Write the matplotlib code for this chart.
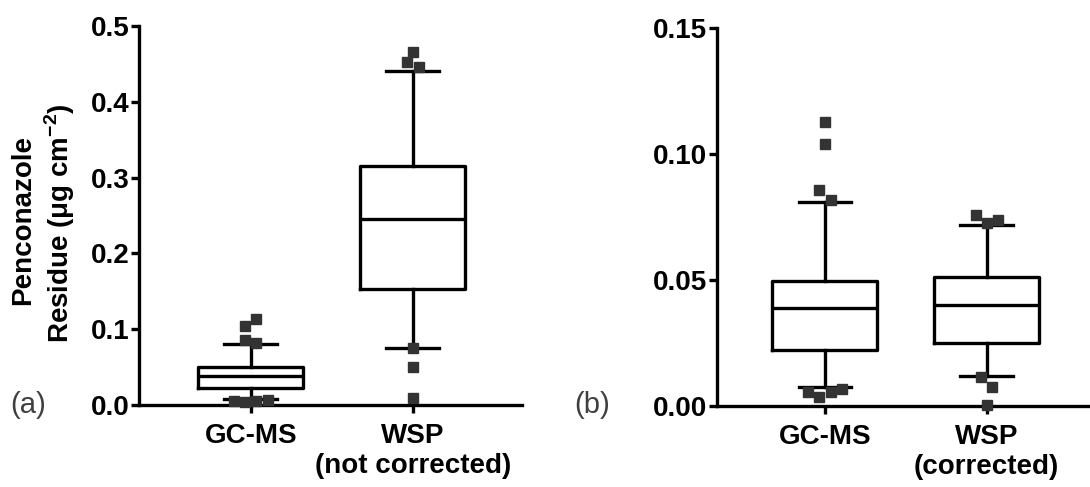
import matplotlib
matplotlib.use("Agg")
import matplotlib.pyplot as plt
from matplotlib.ticker import FormatStrFormatter

plt.rcParams['font.family'] = ['Liberation Sans', 'DejaVu Sans']
plt.rcParams['mathtext.fontset'] = 'custom'
plt.rcParams['mathtext.rm'] = 'Liberation Sans'
plt.rcParams['mathtext.bf'] = 'Liberation Sans:bold'

# box statistics (q1, median, q3, whisker low, whisker high)
cats_a = ["GC-MS", "WSP\n(not corrected)"]
cats_b = ["GC-MS", "WSP\n(corrected)"]

gcms_box = [0.0222, 0.0388, 0.0496, 0.0074, 0.0810]
gcms_out = [0.1128, 0.1038, 0.0858, 0.0818, 0.0057, 0.0037, 0.0057, 0.0067]

wsp_raw_box = [0.1526, 0.2454, 0.3157, 0.0748, 0.4410]
wsp_raw_out = [0.466, 0.453, 0.446, 0.0748, 0.0505, 0.0088]

wsp_cor_box = [0.0251, 0.0401, 0.0513, 0.0119, 0.0720]
wsp_cor_out = [0.0758, 0.0728, 0.0739, 0.0116, 0.0077, 0.0004]

# horizontal spread of overlapping outliers (pixels)
jit_gcms_a = [5.5, -5.5, -5.5, 5.5, -17, -5.7, 5.7, 17]
jit_gcms_b = [0, 0, -5.7, 5.7, -17, -5.7, 5.7, 17]
jit_raw = [0, -6, 6, 0, 0, 0]
jit_cor = [-11, 0, 11.6, -5.7, 5.7, 0]
PX = 162.0  # pixels per category unit

LW = 2.4
MARK = '#333333'
FS = 20


def stats(box, label):
    q1, med, q3, lo, hi = box
    return dict(q1=q1, med=med, q3=q3, whislo=lo, whishi=hi, fliers=[], label=label)


def draw_panel(ax, boxes, outs, jits, cats):
    ax.bxp([stats(b, c) for b, c in zip(boxes, cats)], positions=[0, 1],
           widths=0.65, capwidths=0.325, showfliers=False,
           boxprops=dict(color='black', linewidth=LW),
           whiskerprops=dict(color='black', linewidth=LW),
           capprops=dict(color='black', linewidth=LW),
           medianprops=dict(color='black', linewidth=LW))
    for i, (vals, jit) in enumerate(zip(outs, jits)):
        xs = [i + j / PX for j in jit]
        ax.plot(xs, vals, 's', color=MARK, markersize=7, clip_on=False, zorder=5)
    for s in ['top', 'right']:
        ax.spines[s].set_visible(False)
    for s in ['left', 'bottom']:
        ax.spines[s].set_linewidth(LW)
    ax.tick_params(axis='both', direction='out', length=6, width=LW,
                   labelsize=FS)
    ax.tick_params(axis='y', pad=1)
    ax.tick_params(axis='x', pad=7)
    ax.set_xticks([0, 1])
    ax.set_xticklabels(cats, fontweight='bold', linespacing=1.2)


fig = plt.figure(figsize=(10.9, 4.87), dpi=100)

ax1 = fig.add_axes([139 / 1090, 1 - 405 / 487, 383 / 1090, 379 / 487])
draw_panel(ax1, [gcms_box, wsp_raw_box], [gcms_out, wsp_raw_out],
           [jit_gcms_a, jit_raw], cats_a)
ax1.set_ylim(0, 0.5)
ax1.set_xlim(-0.69, 1.675)
ax1.set_yticks([0, 0.1, 0.2, 0.3, 0.4, 0.5])
ax1.yaxis.set_major_formatter(FormatStrFormatter('%.1f'))
for t in ax1.get_yticklabels():
    t.set_fontweight('bold')

ax2 = fig.add_axes([717 / 1090, 1 - 406 / 487, 373 / 1090, 378 / 487])
draw_panel(ax2, [gcms_box, wsp_cor_box], [gcms_out, wsp_cor_out],
           [jit_gcms_b, jit_cor], cats_b)
ax2.set_ylim(0, 0.15)
ax2.set_xlim(-0.668, 1.64)
ax2.set_yticks([0, 0.05, 0.10, 0.15])
ax2.yaxis.set_major_formatter(FormatStrFormatter('%.2f'))
for t in ax2.get_yticklabels():
    t.set_fontweight('bold')

fig.text(23 / 1090, 1 - 220 / 487, "Penconazole", rotation=90, ha='center',
         va='center', fontsize=FS, fontweight='bold')
fig.text(60 / 1090, 1 - 223 / 487, "Residue (μg cm$^{\\mathbf{-2}}$)", rotation=90,
         ha='center', va='center', fontsize=FS, fontweight='bold')

fig.text(28 / 1090, 1 - 405 / 487, "(a)", ha='center', va='center',
         fontsize=21, color='#404040')
fig.text(592 / 1090, 1 - 405 / 487, "(b)", ha='center', va='center',
         fontsize=21, color='#404040')

fig.savefig("out.png", dpi=100)
